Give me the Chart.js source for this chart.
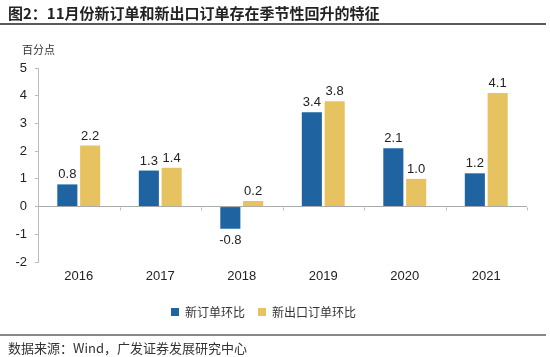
<!DOCTYPE html>
<html><head><meta charset="utf-8">
<script src="https://cdn.jsdelivr.net/npm/chart.js@4"></script>
<style>
html,body{margin:0;padding:0;background:#fff;}
#wrap{position:relative;width:550px;height:357px;overflow:hidden;font-family:"Noto Sans CJK SC","Liberation Sans",sans-serif;}
#title{position:absolute;left:8px;top:3px;font-size:15px;font-weight:bold;color:#222;white-space:nowrap;line-height:20px;}
#line1{position:absolute;left:0;top:23px;width:546px;height:2px;background:#5a5a5a;}
#unit{position:absolute;left:22px;top:41px;font-size:11px;color:#333;line-height:16px;}
#line2{position:absolute;left:0;top:334px;width:546px;height:2px;background:#888;}
#src{position:absolute;left:8px;top:339px;font-size:13px;color:#333;line-height:18px;white-space:nowrap;}
canvas{position:absolute;left:0;top:0;}
</style></head>
<body>
<div id="wrap">
<canvas id="c" width="550" height="357"></canvas>
<div id="title">图2：11月份新订单和新出口订单存在季节性回升的特征</div>
<div id="line1"></div>
<div id="unit">百分点</div>
<div id="line2"></div>
<div id="src">数据来源：Wind，广发证券发展研究中心</div>
</div>
<script>
const categories = ['2016','2017','2018','2019','2020','2021'];
const newOrders = [0.8, 1.3, -0.8, 3.4, 2.1, 1.2];
const newExportOrders = [2.2, 1.4, 0.2, 3.8, 1.0, 4.1];
const seriesNames = ['新订单环比', '新出口订单环比'];
const yTickValues = [-2, -1, 0, 1, 2, 3, 4, 5];

const numFont = '"Liberation Sans", Arial, sans-serif';

const valueLabels = {
  id: 'valueLabels',
  afterDatasetsDraw(chart) {
    const ctx = chart.ctx;
    ctx.save();
    ctx.font = '13px ' + numFont;
    ctx.fillStyle = '#222';
    ctx.textAlign = 'center';
    chart.data.datasets.forEach((ds, di) => {
      const meta = chart.getDatasetMeta(di);
      meta.data.forEach((bar, i) => {
        const v = ds.data[i];
        if (v >= 0) {
          ctx.textBaseline = 'bottom';
          ctx.fillText(v.toFixed(1), bar.x, bar.y - 3);
        } else {
          ctx.textBaseline = 'top';
          ctx.fillText(v.toFixed(1), bar.x, bar.y + 5);
        }
      });
    });
    ctx.restore();
  }
};

const zeroTicks = {
  id: 'zeroTicks',
  afterDraw(chart) {
    const ctx = chart.ctx;
    const xs = chart.scales.x, ys = chart.scales.y;
    const y0 = Math.round(ys.getPixelForValue(0)) + 0.5;
    const n = categories.length;
    ctx.save();
    ctx.strokeStyle = '#bbb';
    ctx.lineWidth = 1;
    for (let i = 1; i <= n; i++) {
      const x = Math.round(xs.left + i * (xs.right - xs.left) / n) + 0.5;
      ctx.beginPath();
      ctx.moveTo(x, y0);
      ctx.lineTo(x, y0 + 3);
      ctx.stroke();
    }
    ctx.restore();
  }
};

new Chart(document.getElementById('c'), {
  type: 'bar',
  data: {
    labels: categories,
    datasets: [
      { label: seriesNames[0], data: newOrders, backgroundColor: '#1F64A0', categoryPercentage: 0.56, barPercentage: 0.88 },
      { label: seriesNames[1], data: newExportOrders, backgroundColor: '#E6C360', categoryPercentage: 0.56, barPercentage: 0.88 }
    ]
  },
  options: {
    responsive: false,
    animation: false,
    layout: { padding: { left: 0, right: 23, top: 68, bottom: 29 } },
    plugins: {
      tooltip: { enabled: false },
      legend: {
        position: 'bottom',
        labels: {
          boxWidth: 8, boxHeight: 8, padding: 13,
          color: '#333',
          font: { size: 12, family: '"Noto Sans CJK SC", sans-serif' }
        }
      }
    },
    scales: {
      x: {
        grid: { display: false },
        border: { display: false },
        ticks: { color: '#222', padding: -1, font: { size: 13, family: numFont } },
        afterFit(s) { s.height = 31; }
      },
      y: {
        min: -2, max: 5,
        afterBuildTicks(s) { s.ticks = yTickValues.map(v => ({ value: v })); },
        afterFit(s) { s.width = 38; },
        border: { display: true, color: '#bbb', width: 1 },
        grid: {
          drawOnChartArea: true,
          drawTicks: true,
          tickLength: 3,
          tickColor: '#bbb',
          color: (c) => (c.tick && c.tick.value === 0) ? '#aaa' : 'rgba(0,0,0,0)'
        },
        ticks: { color: '#222', padding: 8, font: { size: 13, family: numFont } }
      }
    }
  },
  plugins: [valueLabels, zeroTicks]
});
</script>
</body></html>
